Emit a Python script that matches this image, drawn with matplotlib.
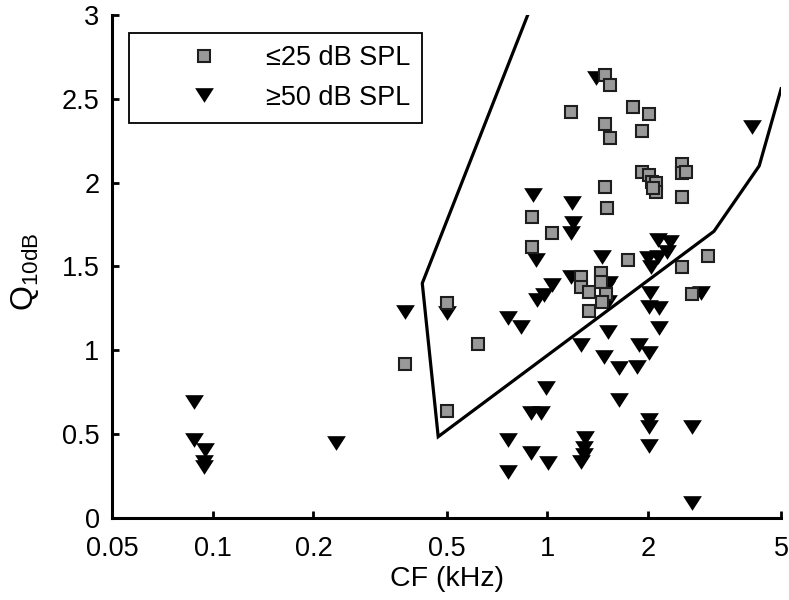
import matplotlib
matplotlib.use("Agg")
from matplotlib import pyplot as plt
from matplotlib.path import Path
from matplotlib.ticker import FixedLocator, NullLocator

matplotlib.rcParams.update({
    'font.family': ['Liberation Sans', 'DejaVu Sans'],
    'font.size': 19.5,
    'mathtext.fontset': 'custom',
    'mathtext.rm': 'Liberation Sans',
    'mathtext.it': 'Liberation Sans',
})

# Q10dB vs CF, measured at <=25 dB SPL (squares)
low_cf = [0.376, 0.5, 0.5, 0.62,
          0.903, 1.036, 0.903,
          1.486, 1.54, 1.175, 1.81, 2.02, 1.486, 1.54, 1.914,
          1.914, 2.01, 2.05, 2.11, 2.11, 2.07, 2.53, 2.53, 2.60, 2.53,
          1.486, 1.507,
          1.74, 2.52, 3.02, 1.26, 1.26, 1.33, 1.445, 1.445, 1.50, 1.46, 1.33, 2.70]
low_q = [0.918, 1.284, 0.638, 1.038,
         1.797, 1.698, 1.618,
         2.642, 2.582, 2.419, 2.453, 2.409, 2.349, 2.264, 2.31,
         2.065, 2.045, 2.005, 2.0, 1.946, 1.966, 2.109, 2.059, 2.065, 1.916,
         1.976, 1.850,
         1.538, 1.499, 1.562, 1.435, 1.376, 1.35, 1.463, 1.409, 1.336, 1.29, 1.234, 1.334]

# ... and at >=50 dB SPL (triangles)
high_cf = [0.0876, 0.0876, 0.0949, 0.094, 0.094, 0.234,
           0.375, 0.5,
           0.906, 1.189, 1.197, 1.175,
           0.923, 1.036, 0.978, 0.934, 0.763, 0.833,
           1.40, 4.09,
           1.46, 2.14, 2.32, 2.28, 2.14, 2.0, 2.04,
           1.175, 1.53, 1.50, 1.52, 2.03, 2.02, 2.16, 2.89,
           2.16, 1.52, 1.26, 1.88, 1.48, 2.02, 1.64, 1.85, 1.64,
           2.02, 2.02, 2.02, 2.70, 2.70,
           1.30, 1.29, 1.29, 1.26,
           0.99, 0.892, 0.96, 0.763, 0.892, 1.005, 0.763]
high_q = [0.693, 0.465, 0.405, 0.336, 0.306, 0.445,
          1.23, 1.22,
          1.926, 1.880, 1.757, 1.698,
          1.538, 1.389, 1.330, 1.300, 1.19, 1.141,
          2.622, 2.333,
          1.558, 1.658, 1.648, 1.588, 1.558, 1.549, 1.499,
          1.435, 1.40, 1.37, 1.29, 1.343, 1.26, 1.25, 1.34,
          1.131, 1.111, 1.032, 1.032, 0.962, 0.986, 0.893, 0.902, 0.704,
          0.584, 0.541, 0.429, 0.545, 0.088,
          0.475, 0.416, 0.375, 0.336,
          0.773, 0.624, 0.624, 0.465, 0.386, 0.326, 0.276]

# boundary polygon
bound_cf = [0.874, 0.423, 0.472, 3.15, 4.30, 5.0]
bound_q = [3.0, 1.40, 0.485, 1.71, 2.10, 2.56]

xticks = [0.05, 0.1, 0.2, 0.5, 1, 2, 5]
xticklabels = ['0.05', '0.1', '0.2', '0.5', '1', '2', '5']
yticks = [0, 0.5, 1, 1.5, 2, 2.5, 3]
yticklabels = ['0', '0.5', '1', '1.5', '2', '2.5', '3']

# flat, wide downward triangle
tri = Path([(-1, 0.78), (1, 0.78), (0, -0.78), (-1, 0.78)],
           [Path.MOVETO, Path.LINETO, Path.LINETO, Path.CLOSEPOLY])

fig = plt.figure(figsize=(7.89, 6.0), dpi=100)
ax = fig.add_axes([0.142, 0.1367, 0.848, 0.8383])

ax.plot(high_cf, high_q, linestyle='none', marker=tri, markersize=13.5,
        color='black', markeredgewidth=0, label='\u226550 dB SPL', zorder=3)
ax.plot(low_cf, low_q, linestyle='none', marker='s', markersize=8.5,
        markerfacecolor='#999999', markeredgecolor='#1e1e1e',
        markeredgewidth=1.5, label='\u226425 dB SPL', zorder=4)
ax.plot(bound_cf, bound_q, color='black', linewidth=2.3, zorder=5,
        solid_joinstyle='miter')

ax.set_xscale('log')
ax.set_xlim(0.05, 5)
ax.set_ylim(0, 3)
ax.xaxis.set_major_locator(FixedLocator(xticks))
ax.xaxis.set_minor_locator(NullLocator())
ax.set_xticklabels(xticklabels)
ax.set_yticks(yticks)
ax.set_yticklabels(yticklabels)

for s in ['top', 'right']:
    ax.spines[s].set_visible(False)
for s in ['left', 'bottom']:
    ax.spines[s].set_linewidth(2.2)
ax.tick_params(direction='in', length=5, width=2, labelsize=19.5)
ax.tick_params(axis='x', pad=13)
ax.tick_params(axis='y', pad=9)

ax.set_xlabel('CF (kHz)', fontsize=20.5, labelpad=3)
ax.set_ylabel(r'$\mathrm{Q}_{\mathrm{10dB}}$', fontsize=23)
ax.yaxis.set_label_coords(-0.106, 0.49)

handles, labels = ax.get_legend_handles_labels()
leg = ax.legend(handles[::-1], labels[::-1], loc='upper left',
                bbox_to_anchor=(0.0254, 0.964), borderaxespad=0,
                fancybox=False, edgecolor='black', framealpha=1,
                handlelength=4.6, handletextpad=0.0, borderpad=0.45,
                labelspacing=0.5, fontsize=19.5)
leg.get_frame().set_linewidth(1.3)

fig.savefig('out.png', dpi=100)
